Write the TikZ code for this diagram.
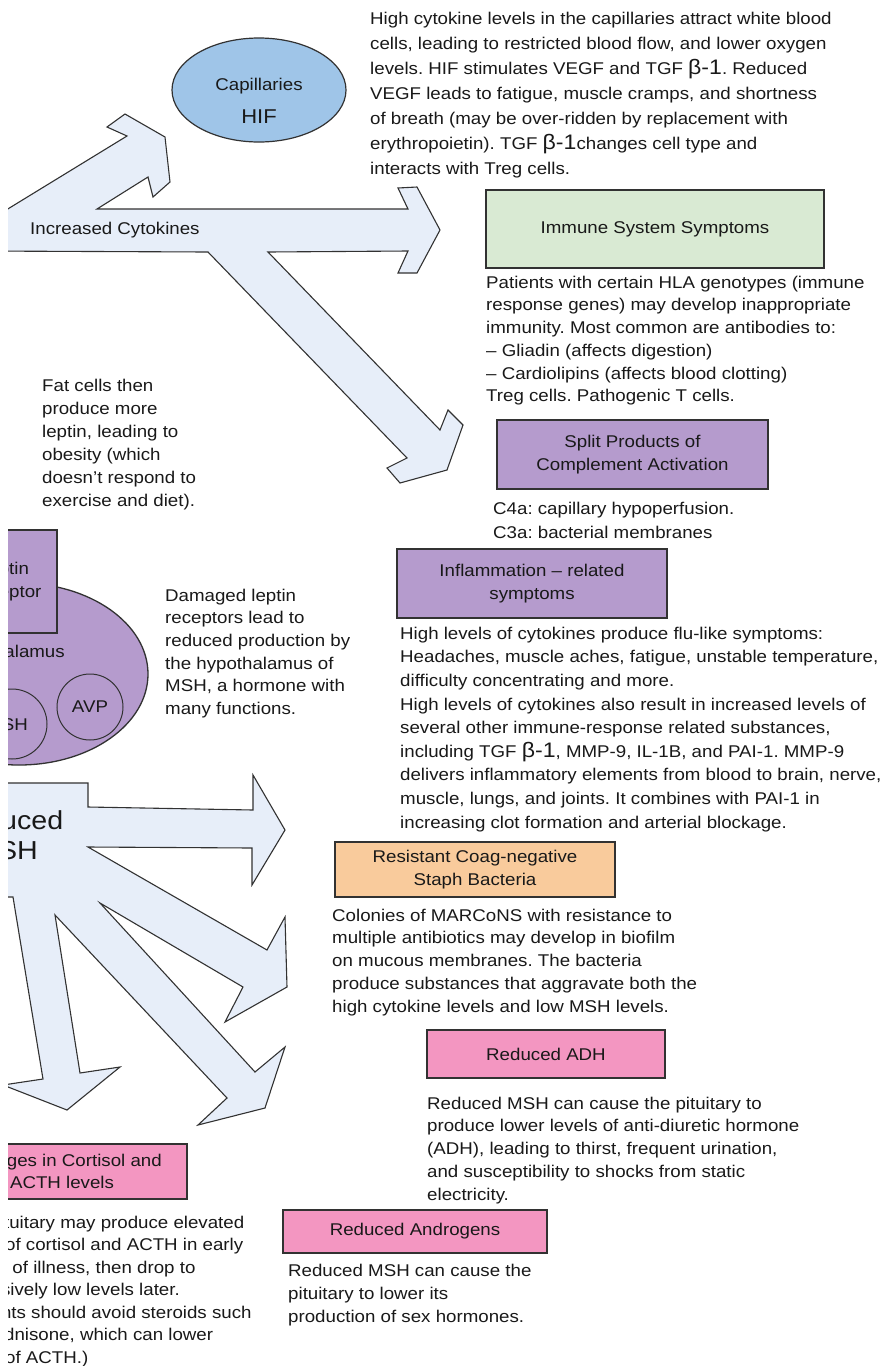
\documentclass[tikz,border=0pt]{standalone}
\usepackage{fontspec}
\setmainfont{Liberation Sans}[FakeStretch=1.1]
\usetikzlibrary{shapes.geometric}
\definecolor{arrowfill}{RGB}{231,238,249}
\definecolor{capblue}{RGB}{159,197,232}
\definecolor{immgreen}{RGB}{217,234,211}
\definecolor{purp}{RGB}{181,155,205}
\definecolor{orng}{RGB}{249,203,156}
\definecolor{pnk}{RGB}{243,150,193}
\definecolor{txt}{RGB}{25,25,25}
\definecolor{edge}{RGB}{50,50,50}
\newcommand\bigbeta{\fontsize{21}{25}\selectfont}
\frenchspacing
\begin{document}
\begin{tikzpicture}[x=1pt,y=-1pt,
  every node/.style={text=txt},
  bigarrow/.style={fill=arrowfill, draw=edge, line width=1.1pt, line join=miter},
  box/.style={draw=edge, line width=1.4pt, inner sep=0, align=center, font=\fontsize{17}{22.5}\selectfont},
  para/.style={anchor=north west, inner sep=0, align=left, font=\fontsize{17}{22.7}\selectfont},
  lbl/.style={inner sep=0, align=center, font=\fontsize{17}{22.5}\selectfont}]
\fill[white] (0,0) rectangle (894,1366);
\useasboundingbox (0,0) rectangle (894,1366);
\begin{scope}
\clip (8,0) rectangle (894,1366);

% Increased cytokines arrow
\draw[bigarrow] (-20,226) -- (127,136) -- (107,127) -- (125,114) -- (165,137) -- (170,182) -- (153,197) -- (148,177) -- (97,209)
  -- (408,209) -- (398,188) -- (417,187) -- (440,230) -- (417,273) -- (398,273) -- (408,251)
  -- (268,252) -- (440,430) -- (448,410) -- (463,425) -- (447,470) -- (400,483) -- (387,468) -- (407,458)
  -- (208,252) -- (-20,251) -- cycle;
\node[lbl, anchor=west] (cyto) at (30,230) {Increased Cytokines};

% Capillaries
\node[ellipse, draw=edge, line width=1.2pt, fill=capblue, minimum width=174, minimum height=104, inner sep=0] (cap) at (259,90) {};
\node[lbl] (caplbl) at (259,86) {Capillaries};
\node[lbl, font=\fontsize{20}{22}\selectfont] (hif) at (259,117) {HIF};

% top note
\node[para, font=\fontsize{17}{25}\selectfont] (topnote) at (370,11.5) {High cytokine levels in the capillaries attract white blood\\
cells, leading to restricted blood flow, and lower oxygen\\
levels. HIF stimulates VEGF and TGF {\bigbeta β-1}. Reduced\\
VEGF leads to fatigue, muscle cramps, and shortness\\
of breath (may be over-ridden by replacement with\\
erythropoietin). TGF {\bigbeta β-1}changes cell type and\\
interacts with Treg cells.};

% Immune
\node[box, fill=immgreen, minimum width=338, minimum height=78] (imm) at (655,229) {Immune System Symptoms};
\node[para] (immtext) at (486,275.7) {Patients with certain HLA genotypes (immune\\
response genes) may develop inappropriate\\
immunity. Most common are antibodies to:\\
-- Gliadin (affects digestion)\\
-- Cardiolipins (affects blood clotting)\\
Treg cells. Pathogenic T cells.};

% Fat cells
\node[para, font=\fontsize{17}{23}\selectfont] (fattext) at (42,378.7) {Fat cells then\\produce more\\leptin, leading to\\obesity (which\\doesn’t respond to\\exercise and diet).};

% Split products
\node[box, fill=purp, minimum width=271, minimum height=69] (split) at (632.5,454.5) {Split Products of\\Complement Activation};
\node[para, font=\fontsize{17}{24}\selectfont] (c4text) at (493,501.7) {C4a: capillary hypoperfusion.\\C3a: bacterial membranes};

% Inflammation
\node[box, fill=purp, minimum width=270, minimum height=69] (infl) at (532,583.5) {Inflammation -- related\\symptoms};
\node[para, font=\fontsize{17}{23.6}\selectfont] (inftext) at (400,626.7) {High levels of cytokines produce flu-like symptoms:\\
Headaches, muscle aches, fatigue, unstable temperature,\\
difficulty concentrating and more.\\
High levels of cytokines also result in increased levels of\\
several other immune-response related substances,\\
including TGF {\bigbeta β-1}, MMP-9, IL-1B, and PAI-1. MMP-9\\
delivers inflammatory elements from blood to brain, nerve,\\
muscle, lungs, and joints. It combines with PAI-1 in\\
increasing clot formation and arterial blockage.};

% Hypothalamus
\node[ellipse, draw=edge, line width=1.3pt, fill=purp, minimum width=258, minimum height=182, inner sep=0] (hypo) at (19,674) {};
\node[box, fill=purp, minimum width=107, minimum height=103] (lepr) at (3.5,581.5) {Leptin\\Receptor};
\node[lbl] (hypolbl) at (5,653) {Hypothalamus};
\node[circle, draw=edge, line width=1pt, minimum size=70, inner sep=0, lbl] (msh) at (12,724) {};
\node[lbl] (mshlbl) at (7,725) {MSH};
\node[circle, draw=edge, line width=1pt, minimum size=66, inner sep=0, lbl] (avp) at (90,707) {AVP};

\node[para, font=\fontsize{17}{22.6}\selectfont] (damtext) at (165,588.7) {Damaged leptin\\receptors lead to\\reduced production by\\the hypothalamus of\\MSH, a hormone with\\many functions.};

% Reduced MSH arrow
\draw[bigarrow] (-20,783) -- (88,783) -- (88,807) -- (253,810) -- (253,775) -- (285,830) -- (252,885) -- (252,848)
  -- (88,847) -- (267,950) -- (285,917) -- (287,987) -- (225,1022) -- (243,987)
  -- (100,903) -- (255,1072) -- (285,1047) -- (265,1108) -- (198,1125) -- (227,1098)
  -- (55,915) -- (80,1073) -- (120,1067) -- (67,1110) -- (3,1085) -- (43,1079)
  -- (13,897) -- (-20,897) -- cycle;
\node[lbl, font=\fontsize{26}{30}\selectfont] (rmsh) at (6,835) {Reduced\\MSH};

% Resistant
\node[box, fill=orng, minimum width=280, minimum height=55] (res) at (475,869.5) {Resistant Coag-negative\\Staph Bacteria};
\node[para, font=\fontsize{17}{22.75}\selectfont] (coltext) at (332,908.7) {Colonies of MARCoNS with resistance to\\
multiple antibiotics may develop in biofilm\\
on mucous membranes. The bacteria\\
produce substances that aggravate both the\\
high cytokine levels and low MSH levels.};

% ADH
\node[box, fill=pnk, minimum width=238, minimum height=48] (adh) at (546,1054) {Reduced ADH};
\node[para, font=\fontsize{17}{22.75}\selectfont] (adhtext) at (427,1096.7) {Reduced MSH can cause the pituitary to\\
produce lower levels of anti-diuretic hormone\\
(ADH), leading to thirst, frequent urination,\\
and susceptibility to shocks from static\\
electricity.};

% Cortisol
\node[box, fill=pnk, minimum width=250, minimum height=55] (cort) at (62,1171.5) {Changes in Cortisol and\\ACTH levels};
\node[para, font=\fontsize{17}{22.5}\selectfont] (cortext) at (-48,1215.7) {The pituitary may produce elevated\\
levels of cortisol and ACTH in early\\
stages of illness, then drop to\\
excessively low levels later.\\
(Patients should avoid steroids such\\
as prednisone, which can lower\\
levels of ACTH.)};

% Androgens
\node[box, fill=pnk, minimum width=264, minimum height=43] (andr) at (415,1231.5) {Reduced Androgens};
\node[para, font=\fontsize{17}{23}\selectfont] (andtext) at (288,1263.7) {Reduced MSH can cause the\\pituitary to lower its\\production of sex hormones.};
\end{scope}
\end{tikzpicture}
\end{document}
